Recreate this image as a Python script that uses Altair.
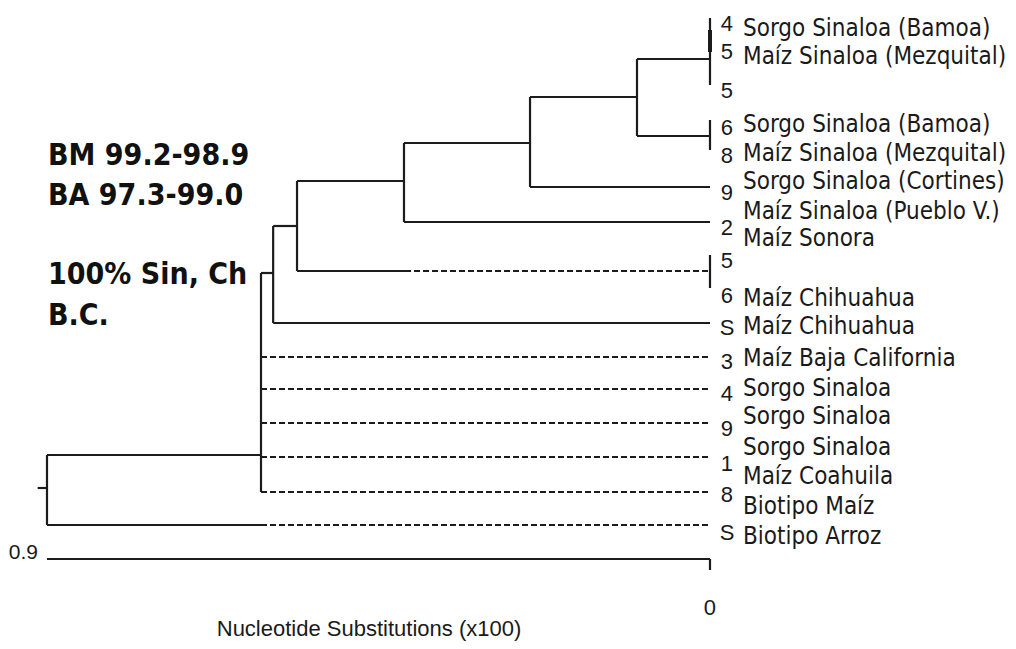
import altair as alt
import pandas as pd

# ---- tree node depths (Nucleotide Substitutions x100) ----
ROOT, NF, NE, ND, NC, NB, NA, TIP = 0.9, 0.6095, 0.593, 0.5606, 0.4154, 0.2443, 0.0991, 0.0
DASH_START = 0.414
ROOT_STUB = 0.9127

# ---- row positions of the tree (layout units, top = small) ----
# horizontal branches: row, from-depth, to-depth, style
h_row   = [455, 525, 525, 273, 357, 389, 423, 457, 492, 323, 226, 271, 271, 181, 222, 143, 187, 97, 59, 136, 488]
h_from  = [ROOT, ROOT, NF, NF, NF, NF, NF, NF, NF, NE, NE, ND, DASH_START, ND, NC, NC, NB, NB, NA, NA, ROOT_STUB]
h_to    = [NF, NF, TIP, NE, TIP, TIP, TIP, TIP, TIP, TIP, ND, DASH_START, TIP, NC, TIP, NB, TIP, NA, TIP, TIP, ROOT]
h_style = ["solid", "solid", "dash", "solid", "dash", "dash", "dash", "dash", "dash", "solid", "solid", "solid",
           "dash", "solid", "solid", "solid", "solid", "solid", "solid", "solid", "solid"]

# vertical connectors: depth, row-from, row-to
v_depth = [ROOT, NF, NE, ND, NC, NB, NA, TIP, TIP, TIP]
v_top   = [455, 273, 226, 181, 143, 97, 59, 18, 120, 255]
v_bot   = [525, 492, 323, 271, 222, 187, 136, 85, 150, 288]

# bold segment on the top tip bar
bold_depth = [TIP]
bold_top = [30]
bold_bot = [52]

# scale bar
bar_from = [ROOT]
bar_to = [TIP]
bar_row = [559]
bar_tick_top = [559]
bar_tick_bot = [570]

# ---- leaf names ----
names = ["Sorgo Sinaloa (Bamoa)", "Maíz Sinaloa (Mezquital)", "Sorgo Sinaloa (Bamoa)",
         "Maíz Sinaloa (Mezquital)", "Sorgo Sinaloa (Cortines)", "Maíz Sinaloa (Pueblo V.)",
         "Maíz Sonora", "Maíz Chihuahua", "Maíz Chihuahua", "Maíz Baja California",
         "Sorgo Sinaloa", "Sorgo Sinaloa", "Sorgo Sinaloa", "Maíz Coahuila",
         "Biotipo Maíz", "Biotipo Arroz"]
name_row = [27, 55, 123, 152, 180, 210, 237, 297, 325, 357, 387, 415, 446, 475, 505, 535]

# ---- isolate digits ----
digits = ["4", "5", "5", "6", "8", "9", "2", "5", "6", "S", "3", "4", "9", "1", "8", "S"]
digit_row = [22, 50, 89, 126, 154, 191, 226, 259, 294, 326, 360, 392, 427, 462, 493, 531]

# ---- notes ----
notes = ["BM 99.2-98.9", "BA 97.3-99.0", "100% Sin, Ch", "B.C."]
note_row = [154, 194, 273, 314]

scale_labels = ["0.9", "0"]
axis_title = "Nucleotide Substitutions (x100)"

# ---------------- build tables ----------------
hdf = pd.DataFrame({"row": h_row, "x1": h_from, "x2": h_to, "style": h_style})
vdf = pd.DataFrame({"x": v_depth, "y1": v_top, "y2": v_bot})
bdf = pd.DataFrame({"x": bold_depth, "y1": bold_top, "y2": bold_bot})
bardf = pd.DataFrame({"x1": bar_from, "x2": bar_to, "row": bar_row})
bartick = pd.DataFrame({"x": bar_to, "y1": bar_tick_top, "y2": bar_tick_bot})
namedf = pd.DataFrame({"x": [TIP] * len(names), "row": name_row, "t": names})
digdf = pd.DataFrame({"x": [TIP] * len(digits), "row": digit_row, "t": digits})
notedf = pd.DataFrame({"x": [ROOT] * len(notes), "row": note_row, "t": notes})
s09 = pd.DataFrame({"x": [ROOT], "row": [551], "t": [scale_labels[0]]})
s0 = pd.DataFrame({"x": [TIP], "row": [606], "t": [scale_labels[1]]})
titledf = pd.DataFrame({"x": [0.4629], "row": [629], "t": [axis_title]})

xs = alt.Scale(domain=[-0.40453, 0.95294], reverse=True, nice=False, zero=False)
ys = alt.Scale(domain=[8, 641], reverse=True, nice=False, zero=False)

INK = "#1c1c1c"
SW = 2.2

def X(f="x"):
    return alt.X(f"{f}:Q", scale=xs, axis=None)

def Y(f="row"):
    return alt.Y(f"{f}:Q", scale=ys, axis=None)

COND = "DejaVu Sans Condensed, DejaVu Sans"
NARROW = "Liberation Sans"

solid = alt.Chart(hdf).transform_filter(alt.datum.style == "solid").mark_rule(
    color=INK, strokeWidth=SW).encode(x=X("x1"), x2="x2:Q", y=Y("row"))
dashed = alt.Chart(hdf).transform_filter(alt.datum.style == "dash").mark_rule(
    color=INK, strokeWidth=2, strokeDash=[6, 3]).encode(x=X("x1"), x2="x2:Q", y=Y("row"))
verts = alt.Chart(vdf).mark_rule(color=INK, strokeWidth=SW).encode(x=X("x"), y=Y("y1"), y2="y2:Q")
bold = alt.Chart(bdf).mark_rule(color=INK, strokeWidth=4).encode(x=X("x"), y=Y("y1"), y2="y2:Q")
bar = alt.Chart(bardf).mark_rule(color=INK, strokeWidth=SW).encode(x=X("x1"), x2="x2:Q", y=Y("row"))
bart = alt.Chart(bartick).mark_rule(color=INK, strokeWidth=SW).encode(x=X("x"), y=Y("y1"), y2="y2:Q")

name_txt = alt.Chart(namedf).mark_text(
    font=COND, fontSize=24, align="left", baseline="middle", dx=33, dy=1.5, color="#1a1a1a"
).encode(x=X("x"), y=Y("row"), text="t:N")
dig_txt = alt.Chart(digdf).mark_text(
    font=NARROW, fontSize=22, align="center", baseline="middle", dx=17, dy=1.5, color="#1a1a1a"
).encode(x=X("x"), y=Y("row"), text="t:N")
note_txt = alt.Chart(notedf).mark_text(
    font=COND, fontSize=30, fontWeight="bold", align="left", baseline="middle", dx=1, dy=2, color="#111111"
).encode(x=X("x"), y=Y("row"), text="t:N")
s09_txt = alt.Chart(s09).mark_text(
    font=NARROW, fontSize=21, align="right", baseline="middle", dx=-9, dy=1.5, color="#1a1a1a"
).encode(x=X("x"), y=Y("row"), text="t:N")
s0_txt = alt.Chart(s0).mark_text(
    font=NARROW, fontSize=22, align="center", baseline="middle", dy=1.5, color="#1a1a1a"
).encode(x=X("x"), y=Y("row"), text="t:N")
title_txt = alt.Chart(titledf).mark_text(
    font=NARROW, fontSize=22, align="center", baseline="middle", dy=0, color="#1a1a1a"
).encode(x=X("x"), y=Y("row"), text="t:N")

chart = alt.layer(
    solid, dashed, verts, bold, bar, bart,
    name_txt, dig_txt, note_txt, s09_txt, s0_txt, title_txt
).properties(
    width=1000, height=633, autosize=alt.AutoSizeParams(type="none"), padding=0
).configure_view(strokeWidth=0, strokeOpacity=0)

chart.save("out.html", embed_options={"renderer": "svg", "actions": False})
